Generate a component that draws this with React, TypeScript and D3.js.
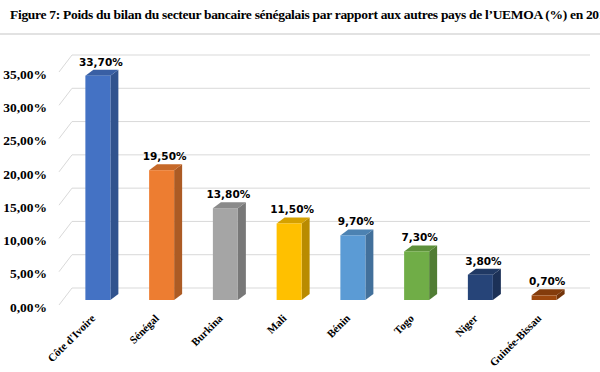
import React, { useEffect, useRef } from 'react';
import * as d3 from 'd3';

const countries = ['Côte d\'Ivoire', 'Sénégal', 'Burkina', 'Mali', 'Bénin', 'Togo', 'Niger', 'Guinée-Bissau'];
const shares = [33.7, 19.5, 13.8, 11.5, 9.7, 7.3, 3.8, 0.7];
const barColors = ['#4472C4', '#ED7D31', '#A5A5A5', '#FFC000', '#5B9BD5', '#70AD47', '#264478', '#9E480E'];
const yTicks = [0, 5, 10, 15, 20, 25, 30, 35];

const W = 600;
const H = 372;

const fmt = (v: number, digits: number) => v.toFixed(digits).replace('.', ',') + '%';

const App: React.FC = () => {
  const svgRef = useRef<SVGSVGElement>(null);

  useEffect(() => {
    if (!svgRef.current) return;
    const svg = d3.select(svgRef.current);
    svg.selectAll('*').remove();

    // title + rule under it (title runs past the right edge, as in the source)
    svg.append('text')
      .attr('x', 10).attr('y', 19)
      .attr('font-family', '"Liberation Serif", serif')
      .attr('font-weight', 'bold')
      .attr('font-size', '13.5px')
      .attr('textLength', 602)
      .attr('lengthAdjust', 'spacing')
      .attr('fill', '#000')
      .text('Figure 7: Poids du bilan du secteur bancaire sénégalais par rapport aux autres pays de l\u2019UEMOA (%) en 2018');
    svg.append('line').attr('x1', 0).attr('x2', W).attr('y1', 34).attr('y2', 34).attr('stroke', '#d9d9d9').attr('stroke-width', 1.5);

    const h = d3.scaleLinear().domain([0, 35]).range([0, 233]);
    const x = d3.scalePoint<string>().domain(countries).range([66, 576]).padding(0.5);

    const backBase = 288;   // back wall 0%
    const frontBase = 305;  // front edge of floor at 0%
    const wallLeft = 72;
    const wallRight = 590;
    const depth = wallLeft - 59;

    // gridlines on back wall and left side wall
    const grid = svg.append('g').attr('stroke', '#d9d9d9').attr('stroke-width', 1);
    yTicks.forEach(v => {
      const yb = backBase - h(v);
      grid.append('line').attr('x1', wallLeft).attr('x2', wallRight).attr('y1', yb).attr('y2', yb);
      grid.append('line').attr('x1', wallLeft - depth).attr('x2', wallLeft).attr('y1', yb + (frontBase - backBase)).attr('y2', yb);
    });

    // y labels
    svg.append('g').selectAll('text').data(yTicks).enter().append('text')
      .attr('x', 47).attr('y', d => frontBase - h(d) + 2)
      .attr('dy', '0.35em')
      .attr('text-anchor', 'end')
      .attr('font-family', '"Liberation Serif", serif')
      .attr('font-weight', 'bold')
      .attr('font-size', '13.5px')
      .text(d => fmt(d, 2));

    // bars (3D)
    const bw = 25;
    const dx = 8;
    const dy = -6;
    const barBase = 300;
    const bars = svg.append('g').selectAll('g').data(countries).enter().append('g');

    bars.each(function (c, i) {
      const g = d3.select(this);
      const x0 = (x(c) as number) - bw / 2;
      const x1 = x0 + bw;
      const yTop = barBase - h(shares[i]);
      const base = d3.color(barColors[i])!;
      const side = base.darker(0.9).formatHex();
      const top = base.darker(0.5).formatHex();
      g.append('path')
        .attr('d', `M${x1},${barBase}L${x1 + dx},${barBase + dy}L${x1 + dx},${yTop + dy}L${x1},${yTop}Z`)
        .attr('fill', side);
      g.append('path')
        .attr('d', `M${x0},${yTop}L${x0 + dx},${yTop + dy}L${x1 + dx},${yTop + dy}L${x1},${yTop}Z`)
        .attr('fill', top);
      g.append('rect')
        .attr('x', x0).attr('y', yTop).attr('width', bw).attr('height', barBase - yTop)
        .attr('fill', base.formatHex());
      g.append('text')
        .attr('x', x0 + (bw + dx) / 2 - 1).attr('y', yTop + dy - 4)
        .attr('text-anchor', 'middle')
        .attr('font-family', '"DejaVu Sans", Verdana, sans-serif')
        .attr('font-weight', 'bold')
        .attr('font-size', '10.5px')
        .attr('fill', '#000')
        .text(fmt(shares[i], 2));
    });

    // x labels
    svg.append('g').selectAll('text').data(countries).enter().append('text')
      .attr('transform', d => `translate(${(x(d) as number) - 2},${319}) rotate(-45)`)
      .attr('text-anchor', 'end')
      .attr('font-family', '"Liberation Serif", serif')
      .attr('font-weight', 'bold')
      .attr('font-size', '11px')
      .text(d => d);
  }, []);

  return (
    <div style={{ position: 'absolute', left: 0, top: 0, width: W, height: H, background: '#fff', overflow: 'hidden' }}>
      <svg ref={svgRef} width={W} height={H}></svg>
    </div>
  );
};

export default App;
